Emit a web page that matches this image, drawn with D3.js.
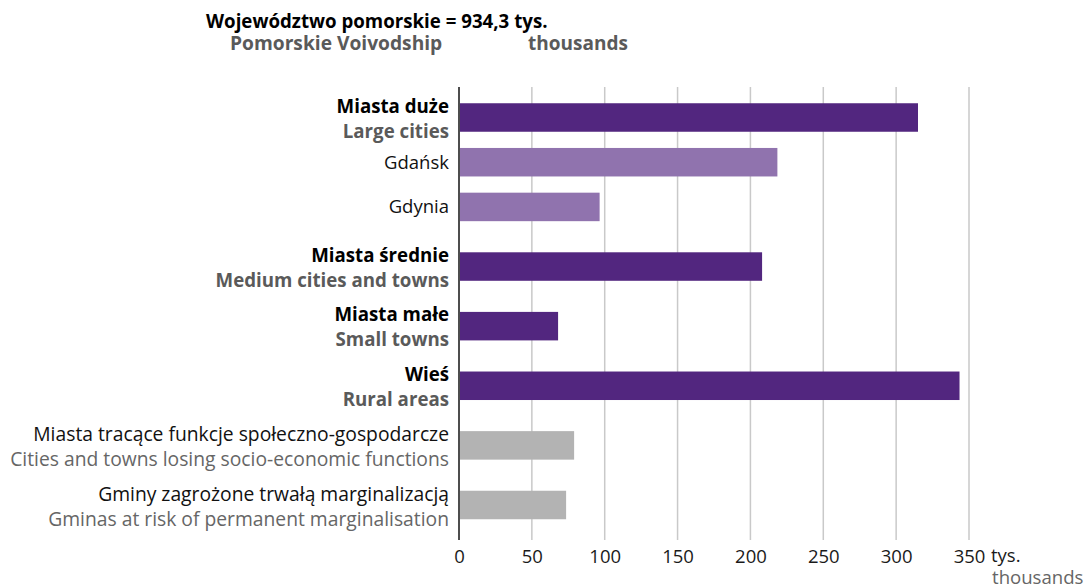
<!DOCTYPE html>
<html>
<head>
<meta charset="utf-8">
<script src="https://cdn.jsdelivr.net/npm/d3@7"></script>
<style>
  html, body { margin: 0; padding: 0; background: #fff; }
  svg { display: block; font-family: "Open Sans", "Noto Sans", sans-serif; }
</style>
</head>
<body>
<svg id="chart" width="1088" height="588"></svg>
<script>
// ---- data ----
const labelsPL = ["Miasta duże", "Gdańsk", "Gdynia", "Miasta średnie", "Miasta małe", "Wieś",
  "Miasta tracące funkcje społeczno-gospodarcze", "Gminy zagrożone trwałą marginalizacją"];
const labelsEN = ["Large cities", "", "", "Medium cities and towns", "Small towns", "Rural areas",
  "Cities and towns losing socio-economic functions", "Gminas at risk of permanent marginalisation"];
const values = [315, 218.5, 96.5, 208, 68, 343.5, 79, 73.5];
const rowType = ["main", "sub", "sub", "main", "main", "main", "other", "other"];
const xTicks = [0, 50, 100, 150, 200, 250, 300, 350];
const titlePL = "Województwo pomorskie = 934,3 tys.";
const titleEN = "Pomorskie Voivodship";
const titleUnitEN = "thousands";
const unitPL = "tys.";
const unitEN = "thousands";

// ---- styles ----
const colors = { main: "#52267f", sub: "#9073ae", other: "#b3b3b3" };
const svg = d3.select("#chart");

const x = d3.scaleLinear().domain([0, 350]).range([459, 969]);

// row positions: sub rows are packed tighter
const pos = [];
let acc = 0;
rowType.forEach((t, i) => {
  if (i > 0) acc += (t === "sub") ? 0.75 : 1;
  pos.push(acc);
});
const y = d3.scaleLinear().domain([0, pos[pos.length - 1]]).range([117.5, 505]);
const barH = 28.5;
const plotTop = 87, plotBottom = 540;

// gridlines
svg.append("g").selectAll("line").data(xTicks.filter(d => d > 0)).join("line")
  .attr("x1", d => x(d)).attr("x2", d => x(d))
  .attr("y1", plotTop).attr("y2", plotBottom)
  .attr("stroke", "#c9c9c9").attr("stroke-width", 1.5);

// bars
const rows = values.map((v, i) => ({ v, i, t: rowType[i], pl: labelsPL[i], en: labelsEN[i] }));
svg.append("g").selectAll("rect").data(rows).join("rect")
  .attr("x", x(0))
  .attr("y", d => y(pos[d.i]) - barH / 2)
  .attr("width", d => x(d.v) - x(0))
  .attr("height", barH)
  .attr("fill", d => colors[d.t]);

// axis line
svg.append("line")
  .attr("x1", x(0)).attr("x2", x(0)).attr("y1", plotTop).attr("y2", plotBottom)
  .attr("stroke", "#4d4d4d").attr("stroke-width", 2);

// x axis via d3
const xAxis = d3.axisBottom(x).tickValues(xTicks).tickSize(0).tickPadding(0).tickFormat(d3.format("d"));
const gx = svg.append("g").attr("transform", `translate(0,${plotBottom})`).call(xAxis);
gx.select(".domain").remove();
gx.selectAll("text")
  .attr("y", 23).attr("dy", 0)
  .attr("font-size", 18.5).attr("fill", "#1a1a1a")
  .attr("font-family", "'Open Sans', sans-serif");

// unit labels
svg.append("text").attr("x", 991).attr("y", 562).attr("font-size", 18.5).attr("fill", "#1a1a1a").text(unitPL);
svg.append("text").attr("x", 992).attr("y", 584).attr("font-size", 18.6).attr("fill", "#666").text(unitEN);

// category labels
const labX = 449;
const lg = svg.append("g").attr("text-anchor", "end");
rows.forEach(d => {
  const cy = y(pos[d.i]);
  const bold = d.t === "main";
  if (d.en) {
    const fs = bold ? 18.7 : 19.3;
    const o1 = bold ? -5 : -4, o2 = bold ? 20 : 21;
    lg.append("text").attr("x", labX).attr("y", cy + o1).attr("font-size", fs)
      .attr("font-weight", bold ? 700 : 400).attr("fill", bold ? "#000" : "#111").text(d.pl);
    lg.append("text").attr("x", labX).attr("y", cy + o2).attr("font-size", fs)
      .attr("font-weight", bold ? 700 : 400).attr("fill", bold ? "#5a5a5a" : "#666").text(d.en);
  } else {
    lg.append("text").attr("x", labX).attr("y", cy + 6.5).attr("font-size", 18.5)
      .attr("font-weight", 400).attr("fill", "#111").text(d.pl);
  }
});

// title
svg.append("text").attr("x", 206).attr("y", 28).attr("font-size", 18.7).attr("font-weight", 700)
  .attr("fill", "#000").text(titlePL);
svg.append("text").attr("x", 230).attr("y", 50).attr("font-size", 19.2).attr("font-weight", 700)
  .attr("fill", "#5a5a5a").text(titleEN);
svg.append("text").attr("x", 528).attr("y", 50).attr("font-size", 19).attr("font-weight", 700)
  .attr("fill", "#5a5a5a").text(titleUnitEN);
</script>
</body>
</html>
